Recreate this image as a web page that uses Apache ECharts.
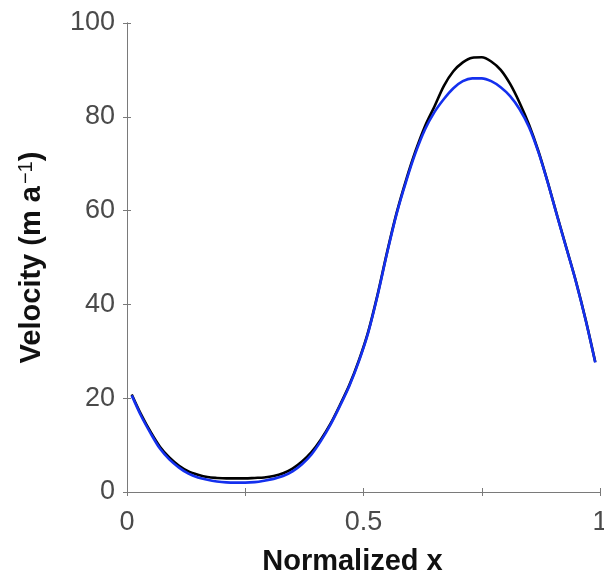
<!DOCTYPE html>
<html>
<head>
<meta charset="utf-8">
<script src="https://cdn.jsdelivr.net/npm/echarts@6/dist/echarts.min.js"></script>
<style>
  html, body { margin: 0; padding: 0; background: #fff; }
  #chart { width: 604px; height: 577px; }
</style>
</head>
<body>
<div id="chart"></div>
<script>
// Normalized position along the profile (uniform 0.02 spacing)
const xs = [0.01, 0.03, 0.05, 0.07, 0.09, 0.11, 0.13, 0.15, 0.17, 0.19,
            0.21, 0.23, 0.25, 0.27, 0.29, 0.31, 0.33, 0.35, 0.37, 0.39,
            0.41, 0.43, 0.45, 0.47, 0.49, 0.51, 0.53, 0.55, 0.57, 0.59,
            0.61, 0.63, 0.65, 0.67, 0.69, 0.71, 0.73, 0.75, 0.77, 0.79,
            0.81, 0.83, 0.85, 0.87, 0.89, 0.91, 0.93, 0.95, 0.97, 0.99];

// Velocity (m/a), black profile
const velocityBlack = [20.8, 16.5, 12.8, 9.6, 7.3, 5.6, 4.4, 3.7, 3.2, 3.0,
                       2.9, 2.9, 2.9, 3.0, 3.1, 3.4, 4.0, 5.0, 6.5, 8.5,
                       11.2, 14.5, 18.5, 22.8, 28.0, 34.2, 42.2, 51.2, 59.5, 66.5,
                       72.7, 78.0, 82.2, 86.6, 89.7, 91.6, 92.6, 92.7, 91.8, 90.0,
                       87.0, 83.0, 78.3, 72.6, 65.9, 58.7, 51.7, 44.6, 36.6, 27.7];

// Velocity (m/a), blue profile
const velocityBlue = [20.6, 16.2, 12.5, 9.2, 6.9, 5.2, 3.9, 3.1, 2.6, 2.25,
                      2.05, 2.0, 2.0, 2.1, 2.4, 2.8, 3.4, 4.4, 5.9, 8.0,
                      10.9, 14.3, 18.3, 22.6, 27.8, 34.0, 42.0, 51.0, 59.3, 66.2,
                      72.3, 77.3, 81.0, 83.8, 86.1, 87.6, 88.2, 88.2, 87.6, 86.3,
                      84.4, 81.6, 77.8, 72.4, 65.8, 58.6, 51.6, 44.5, 36.5, 27.6];

// Tick labels shown on the x axis (the quarter ticks stay unlabeled)
const xTickLabels = { 0: '0', 0.5: '0.5', 1: '1' };

const pairs = (ys) => xs.map((x, i) => [x, ys[i]]);

const axisGray = '#7a7a7a';
const labelGray = '#4a4a4a';
const font = 'Liberation Sans, Arial, sans-serif';

const chart = echarts.init(document.getElementById('chart'), null, { renderer: 'canvas' });

chart.setOption({
  animation: false,
  backgroundColor: '#fff',
  grid: { left: 127, top: 23, right: 4, bottom: 85, containLabel: false, outerBoundsMode: 'none' },
  xAxis: [
    {
      type: 'value', min: 0, max: 1, interval: 0.25, position: 'bottom',
      name: 'Normalized x', nameLocation: 'middle', nameGap: 55,
      nameTextStyle: { fontFamily: font, fontWeight: 'bold', fontSize: 29, color: '#111', padding: [0, 22, 0, 0] },
      axisLine: { show: true, lineStyle: { color: axisGray, width: 1 } },
      axisTick: { show: true, inside: true, length: 4, lineStyle: { color: axisGray } },
      axisLabel: {
        margin: 17, fontFamily: font, fontSize: 27, color: labelGray, hideOverlap: false,
        formatter: (v) => (xTickLabels[v] !== undefined ? xTickLabels[v] : '')
      },
      splitLine: { show: false }
    },
    {
      type: 'value', min: 0, max: 1, interval: 0.25, position: 'top',
      axisLine: { show: true, lineStyle: { color: axisGray, width: 1 } },
      axisTick: { show: true, inside: true, length: 4, lineStyle: { color: axisGray } },
      axisLabel: { show: false },
      splitLine: { show: false }
    }
  ],
  yAxis: [
    {
      type: 'value', min: 0, max: 100, interval: 20, position: 'left',
      name: '{b|Velocity (m a}{s|−1}{b|)}', nameLocation: 'middle', nameGap: 79,
      nameTextStyle: {
        rich: {
          b: { fontFamily: font, fontWeight: 'bold', fontSize: 29, color: '#111' },
          s: { fontFamily: font, fontWeight: 'normal', fontSize: 20, color: '#111', verticalAlign: 'top', padding: [0, 0, 12, 2] }
        }
      },
      axisLine: { show: true, lineStyle: { color: axisGray, width: 1 } },
      axisTick: { show: true, inside: true, length: 4, lineStyle: { color: axisGray } },
      axisLabel: { margin: 12, fontFamily: font, fontSize: 27, color: labelGray },
      splitLine: { show: false }
    },
    {
      type: 'value', min: 0, max: 100, interval: 20, position: 'right',
      axisLine: { show: true, lineStyle: { color: axisGray, width: 1 } },
      axisTick: { show: true, inside: true, length: 4, lineStyle: { color: axisGray } },
      axisLabel: { show: false },
      splitLine: { show: false }
    }
  ],
  series: [
    {
      type: 'line', name: 'black', data: pairs(velocityBlack), smooth: 0.3,
      showSymbol: false, lineStyle: { color: '#000', width: 2.6 }, z: 2
    },
    {
      type: 'line', name: 'blue', data: pairs(velocityBlue), smooth: 0.3,
      showSymbol: false, lineStyle: { color: '#1430ee', width: 2.6 }, z: 3
    }
  ]
});
</script>
</body>
</html>
